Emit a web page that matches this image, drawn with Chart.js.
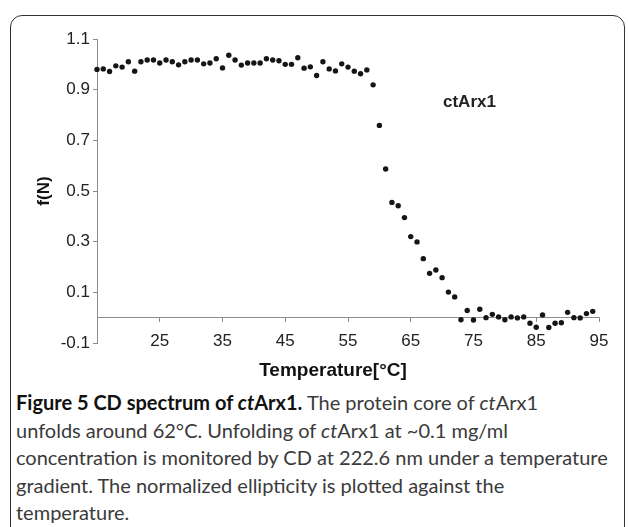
<!DOCTYPE html>
<html lang="en">
<head>
<meta charset="UTF-8">
<title>CD spectrum of ctArx1</title>
<script src="https://cdn.jsdelivr.net/npm/chart.js"></script>
<style>
body {
    margin: 0;
    width: 628px;
    height: 527px;
    overflow: hidden;
    position: relative;
    background: #fff;
    font-family: "Liberation Sans", Arial, sans-serif;
}
.frame {
    position: absolute;
    left: 10px;
    top: 15px;
    width: 613px;
    height: 540px;
    border: 1.5px solid #333;
    border-radius: 12px;
}
#cd-chart {
    position: absolute;
    left: 0;
    top: 0;
}
.series-label {
    position: absolute;
    left: 443px;
    top: 92px;
    line-height: 20px;
    font-size: 17px;
    font-weight: bold;
    color: #222;
}
.x-title {
    position: absolute;
    left: 183px;
    width: 300px;
    top: 359px;
    line-height: 22px;
    text-align: center;
    font-size: 19px;
    font-weight: bold;
    color: #111;
}
.caption {
    position: absolute;
    left: 16px;
    top: 389px;
    font-family: Lato, "Open Sans", sans-serif;
    font-size: 20px;
    line-height: 27.5px;
    color: #3a3a3a;
    white-space: nowrap;
}
.caption b {
    color: #111;
}
</style>
</head>
<body>
<div class="frame"></div>
<canvas id="cd-chart" width="628" height="360"></canvas>
<div class="series-label">ctArx1</div>
<div class="x-title">Temperature[°C]</div>
<div class="caption">
    <b>Figure 5 CD spectrum of <i>ct</i>Arx1.</b> The protein core of <i>ct</i>Arx1<br>
    unfolds around 62°C. Unfolding of <i>ct</i>Arx1 at ~0.1 mg/ml<br>
    concentration is monitored by CD at 222.6 nm under a temperature<br>
    gradient. The normalized ellipticity is plotted against the<br>
    temperature.
</div>

<script>
// temperature steps (°C) and normalized ellipticity
const temperature = [15, 16, 17, 18, 19, 20, 21, 22, 23, 24,
    25, 26, 27, 28, 29, 30, 31, 32, 33, 34,
    35, 36, 37, 38, 39, 40, 41, 42, 43, 44,
    45, 46, 47, 48, 49, 50, 51, 52, 53, 54,
    55, 56, 57, 58, 59, 60, 61, 62, 63, 64,
    65, 66, 67, 68, 69, 70, 71, 72, 73, 74,
    75, 76, 77, 78, 79, 80, 81, 82, 83, 84,
    85, 86, 87, 88, 89, 90, 91, 92, 93, 94];
const foldedFraction = [0.980, 0.982, 0.972, 0.994, 0.989, 1.010, 0.973, 1.010, 1.017, 1.017,
    1.005, 1.017, 1.010, 0.998, 1.010, 1.017, 1.017, 1.002, 1.005, 1.022,
    0.986, 1.036, 1.017, 0.997, 1.005, 1.005, 1.005, 1.022, 1.017, 1.014,
    1.000, 1.000, 1.026, 0.985, 0.990, 0.956, 1.010, 0.982, 0.974, 1.002,
    0.989, 0.973, 0.963, 0.978, 0.919, 0.759, 0.587, 0.455, 0.442, 0.395,
    0.320, 0.299, 0.233, 0.175, 0.188, 0.158, 0.101, 0.082, -0.008, 0.028,
    -0.009, 0.033, 0.000, 0.013, 0.003, -0.008, 0.003, -0.001, 0.003, -0.022,
    -0.038, 0.011, -0.039, -0.022, -0.020, 0.021, 0.000, -0.001, 0.016, 0.025];

// axis ticks
const xTicks = [25, 35, 45, 55, 65, 75, 85, 95];
const yTicks = [-0.1, 0.1, 0.3, 0.5, 0.7, 0.9, 1.1];

const axisGray = '#8c8c8c';
const labelFont = { family: '"Liberation Sans", Arial, sans-serif', size: 17 };

const ctx = document.getElementById('cd-chart').getContext('2d');
new Chart(ctx, {
    type: 'scatter',
    data: {
        datasets: [{
            data: temperature.map((t, i) => ({ x: t, y: foldedFraction[i] })),
            showLine: false,
            pointRadius: 2.7,
            pointHoverRadius: 2.7,
            pointBorderWidth: 0,
            pointBackgroundColor: '#151515',
            clip: false
        }]
    },
    options: {
        responsive: false,
        animation: false,
        devicePixelRatio: 1,
        layout: { padding: { left: 0, right: 29, top: 39, bottom: 17 } },
        plugins: {
            legend: { display: false },
            tooltip: { enabled: false }
        },
        scales: {
            // x axis line sits where f(N) = 0, labels hang down to the -0.1 level
            x: {
                type: 'linear',
                position: { y: 0 },
                min: 15,
                max: 95,
                afterBuildTicks: s => { s.ticks = xTicks.map(v => ({ value: v })); },
                border: { display: true, color: axisGray, width: 1 },
                grid: { drawOnChartArea: false, drawTicks: true, tickLength: 4, color: axisGray },
                ticks: { padding: 9.5, color: '#222', font: labelFont, maxRotation: 0, autoSkip: false }
            },
            y: {
                type: 'linear',
                min: -0.1,
                max: 1.1,
                afterBuildTicks: s => { s.ticks = yTicks.map(v => ({ value: v })); },
                afterFit: s => { s.width = 97; },
                border: { display: true, color: axisGray, width: 1 },
                grid: { drawOnChartArea: false, drawTicks: true, tickLength: 4, color: axisGray },
                ticks: { padding: 3, color: '#222', font: labelFont, callback: v => v.toFixed(1) },
                title: {
                    display: true,
                    text: 'f(N)',
                    color: '#111',
                    font: { family: labelFont.family, size: 17, weight: 'bold' },
                    padding: { top: 34, bottom: 0 }
                }
            }
        }
    }
});
</script>
</body>
</html>
